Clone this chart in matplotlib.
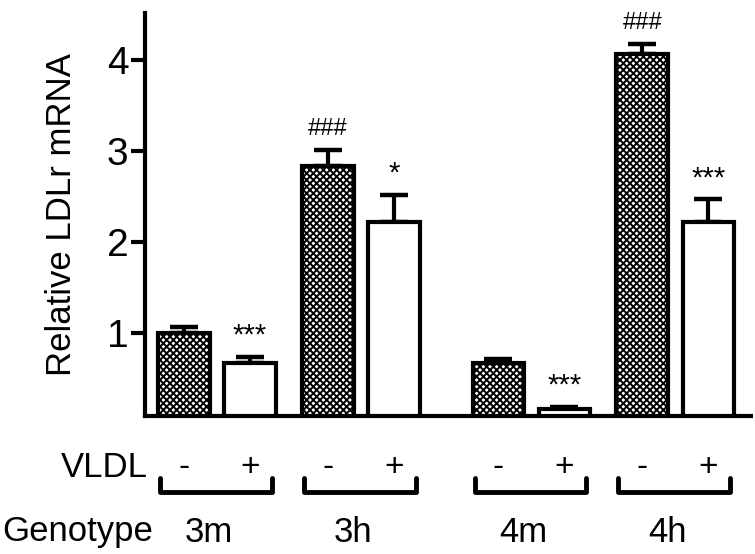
"""Relative LDLr mRNA per genotype, with and without VLDL (bar chart, SEM)."""

import matplotlib

matplotlib.use("Agg")
import matplotlib.pyplot as plt  # noqa: E402
import numpy as np  # noqa: E402

plt.rcParams["font.family"] = ["Liberation Sans", "DejaVu Sans"]
plt.rcParams["hatch.linewidth"] = 1.4

genotypes = ["3m", "3h", "4m", "4h"]
vldl_signs = ["-", "+"]
# per genotype: VLDL "-" and VLDL "+"
means_minus = [1.00, 2.83, 0.67, 4.07]
means_plus = [0.67, 2.22, 0.17, 2.22]
sem_minus = [0.07, 0.18, 0.04, 0.11]
sem_plus = [0.07, 0.30, 0.02, 0.25]
marks_minus = ["", "###", "", "###"]
marks_plus = ["***", "*", "***", "***"]
y_ticks = [1, 2, 3, 4]

# layout: where each genotype pair starts on the x axis (uneven gaps, as in the figure)
group_start = np.array([0.0, 2.18, 4.76, 6.94])
bar_w = 0.78

fig = plt.figure(figsize=(7.55, 5.54), dpi=100)
ax = fig.add_axes([0.192, 0.249, 0.803, 0.7275])

x_minus = group_start
x_plus = group_start + 1
ax.bar(x_minus, means_minus, width=bar_w, color="white", edgecolor="black",
       hatch="xxxxx", linewidth=3, zorder=3)
ax.bar(x_plus, means_plus, width=bar_w, color="white", edgecolor="black",
       linewidth=3, zorder=3)
for xs, m, e in ((x_minus, means_minus, sem_minus), (x_plus, means_plus, sem_plus)):
    ax.errorbar(xs, m, yerr=[np.zeros(len(e)), e], fmt="none", ecolor="black",
                elinewidth=3, capsize=10, capthick=3.2, zorder=2)

# significance marks above the error bars
for xs, m, e, marks, size in ((x_minus, means_minus, sem_minus, marks_minus, 17),
                              (x_plus, means_plus, sem_plus, marks_plus, 21)):
    for x, mv, ev, s in zip(xs, m, e, marks):
        if s:
            ax.annotate(s, (x, mv + ev), xytext=(0, 15), textcoords="offset points",
                        ha="center", va="center", fontsize=size, annotation_clip=False)

ax.set_xlim(-0.59, 8.59)
ax.set_ylim(0.088, 4.516)
ax.set_yticks(y_ticks)
ax.set_xticks([])
ax.tick_params(axis="y", length=10, width=3, labelsize=28, pad=2)
ax.set_ylabel("Relative LDLr mRNA", fontsize=25)
ax.yaxis.set_label_coords(-0.11, 0.5)
for side in ("top", "right"):
    ax.spines[side].set_visible(False)
for side in ("left", "bottom"):
    ax.spines[side].set_linewidth(3)
    ax.spines[side].set_zorder(5)

# VLDL -/+ row with brackets, then genotype row
trans = ax.get_xaxis_transform()
ax.text(0.004, -0.127, "VLDL", transform=ax.transAxes, ha="right", va="center", fontsize=25)
for xs, sign in ((x_minus, vldl_signs[0]), (x_plus, vldl_signs[1])):
    for x in xs:
        ax.text(x, -0.127, sign, transform=trans, ha="center", va="center",
                fontsize=24, clip_on=False)
for x0, x1 in zip(x_minus - 0.36, x_plus + 0.33):
    ax.plot([x0, x0, x1, x1], [-0.154, -0.189, -0.189, -0.154], color="black",
            lw=3.5, transform=trans, clip_on=False, solid_joinstyle="round",
            solid_capstyle="round")
fig.text(0.003, 1 - 532 / 554, "Genotype", ha="left", va="center", fontsize=25)
for x, g in zip(group_start + 0.38, genotypes):
    ax.text(x, -0.288, g, transform=trans, ha="center", va="center",
            fontsize=25, clip_on=False)

fig.savefig("out.png", dpi=100)
